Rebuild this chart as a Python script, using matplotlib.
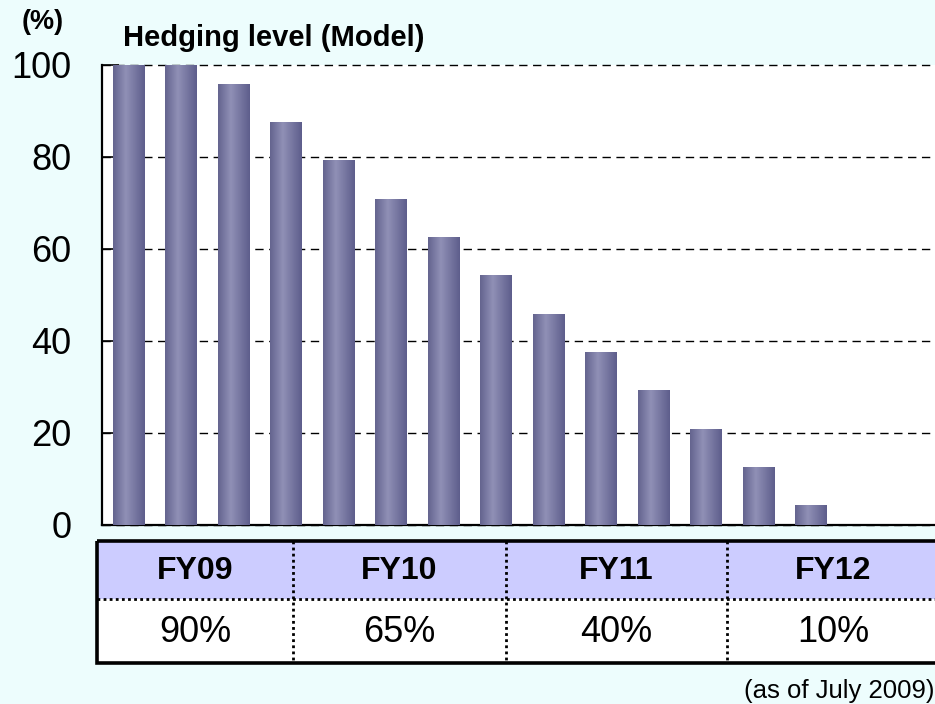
import numpy as np
import matplotlib.pyplot as plt
from matplotlib.colors import LinearSegmentedColormap
from matplotlib.patches import Rectangle

plt.rcParams['font.family'] = ['Liberation Sans', 'DejaVu Sans']

# quarterly hedging level (%), FY09 1Q .. FY12 4Q
quarters = ['FY09 Q1', 'FY09 Q2', 'FY09 Q3', 'FY09 Q4',
            'FY10 Q1', 'FY10 Q2', 'FY10 Q3', 'FY10 Q4',
            'FY11 Q1', 'FY11 Q2', 'FY11 Q3', 'FY11 Q4',
            'FY12 Q1', 'FY12 Q2', 'FY12 Q3', 'FY12 Q4']
hedge = [100, 100, 95.8, 87.5, 79.2, 70.8, 62.5, 54.2,
         45.8, 37.5, 29.2, 20.8, 12.5, 4.2, 0, 0]
y_ticks = [0, 20, 40, 60, 80, 100]

fiscal_years = ['FY09', 'FY10', 'FY11', 'FY12']
fy_levels = ['90%', '65%', '40%', '10%']

W, H = 935, 704
BG = '#edfdfd'

fig = plt.figure(figsize=(W / 100, H / 100), dpi=100, facecolor=BG)

# plot area in pixels: left 102, right 942, top 65, bottom 525
ax = fig.add_axes([102 / W, 1 - 525 / H, (942 - 102) / W, (525 - 65) / H])
ax.set_facecolor('white')

x = np.arange(len(quarters))
bw = 0.6
bars = ax.bar(x, hedge, width=bw, color='none', edgecolor='none', zorder=2)

# cylinder-like shading on each bar
cmap = LinearSegmentedColormap.from_list(
    'cyl', [(0, '#64648f'), (0.4, '#9090b6'), (1, '#5e5e8c')])
grad = np.linspace(0, 1, 64).reshape(1, -1)
for b in bars:
    if b.get_height() <= 0:
        continue
    ax.imshow(grad, cmap=cmap, aspect='auto', zorder=3,
              extent=[b.get_x(), b.get_x() + b.get_width(), 0, b.get_height()])

ax.set_xlim(-0.5, len(quarters) - 0.5)
ax.set_ylim(0, 100)
ax.set_yticks(y_ticks)
ax.set_xticks([])
ax.yaxis.grid(True, color='black', linestyle=(0, (6, 4)), linewidth=1, zorder=1)
ax.set_axisbelow(True)
for g in ax.get_ygridlines():
    g.set_clip_on(False)
ax.tick_params(axis='y', direction='in', length=12, width=1.2,
               labelsize=26, pad=22)
for s in ['top', 'right']:
    ax.spines[s].set_visible(False)
for s in ['left', 'bottom']:
    ax.spines[s].set_linewidth(1.6)

fig.text(43 / W, 1 - 22 / H, '(%)', fontsize=19.5, fontweight='bold',
         ha='center', va='center')
fig.text(123 / W, 1 - 46 / H, 'Hedging level (Model)', fontsize=21,
         fontweight='bold', ha='left', va='baseline')

# table under the chart, drawn in pixel coordinates
tab = fig.add_axes([0, 0, 1, 1])
tab.set_xlim(0, W)
tab.set_ylim(H, 0)
tab.axis('off')
cols = [97, 293, 506, 727, 945]
top, mid, bot = 541, 599, 663
tab.add_patch(Rectangle((cols[0], top), cols[-1] - cols[0], mid - top,
                        facecolor='#ccccff', edgecolor='none'))
tab.add_patch(Rectangle((cols[0], mid), cols[-1] - cols[0], bot - mid,
                        facecolor='white', edgecolor='none'))
tab.plot([cols[0], cols[-1]], [mid, mid], color='black', lw=2, ls=(0, (1, 1.2)))
for c in cols[1:-1]:
    tab.plot([c, c], [top, bot], color='black', lw=2, ls=(0, (1, 1.2)))
tab.add_patch(Rectangle((cols[0], top), cols[-1] - cols[0], bot - top,
                        facecolor='none', edgecolor='black', lw=2.6,
                        clip_on=False))
for i, (fy, lv) in enumerate(zip(fiscal_years, fy_levels)):
    cx = (cols[i] + min(cols[i + 1], W)) / 2
    if i == len(fiscal_years) - 1:
        cx = 833
    tab.text(cx, (top + mid) / 2 + 1, fy, fontsize=23, fontweight='bold',
             ha='center', va='center')
    tab.text(cx, (mid + bot) / 2 + 1, lv, fontsize=26, ha='center', va='center')

fig.text(1.0, 1 - 698 / H, '(as of July 2009)', fontsize=18.5,
         ha='right', va='baseline')

fig.savefig('out.png', dpi=100, facecolor=BG)
